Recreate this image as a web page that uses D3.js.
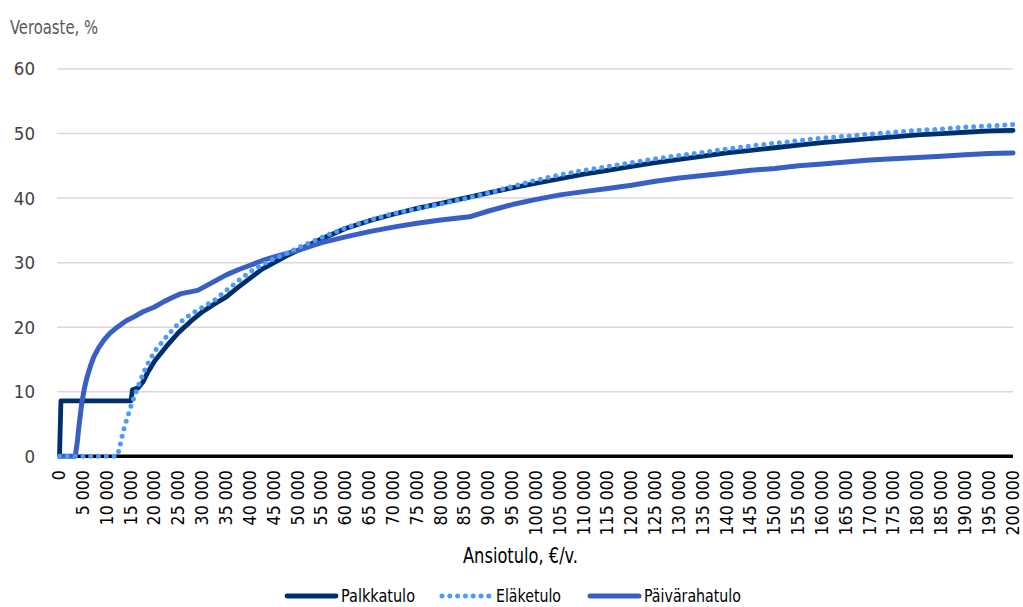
<!DOCTYPE html>
<html><head><meta charset="utf-8">
<script src="https://cdn.jsdelivr.net/npm/d3@7"></script>
<style>
body{margin:0;background:#fff;}
svg{display:block;}
text{font-family:"Liberation Sans Narrow","DejaVu Sans Condensed","Roboto Condensed",sans-serif;}
</style></head><body>
<svg id="c" width="1023" height="607"></svg>
<script>
// ---- data ----
const yTicks = [0,10,20,30,40,50,60];
const xTicks = d3.range(0, 200001, 5000);
const seriesNames = ["Palkkatulo","Eläketulo","Päivärahatulo"];

const palkkaIncome = [0,300,15000,15300,16500,17500,18500,20000,22500,25000,27500,30000,32500,35000,37500,40000,42500,45000,47500,50000,55000,60000,65000,70000,75000,80000,85000,90000,95000,100000,105000,110000,115000,120000,125000,130000,135000,140000,145000,150000,155000,160000,165000,170000,175000,180000,185000,190000,195000,200000];
const palkkaRate   = [0,8.6,8.6,10.3,10.6,11.5,13.0,14.8,17.1,19.2,20.9,22.4,23.6,24.7,26.2,27.6,29.0,30.0,31.0,31.9,33.7,35.3,36.5,37.5,38.4,39.2,40.0,40.8,41.6,42.3,43.0,43.7,44.3,44.9,45.5,46.0,46.5,47.0,47.4,47.8,48.2,48.6,48.9,49.2,49.5,49.8,50.0,50.2,50.4,50.5];

const elakeIncome = [0,12000,12500,13000,13500,14000,14500,15000,16000,17000,18000,19000,20000,22500,25000,27500,30000,32500,35000,37500,40000,42500,45000,47500,50000,55000,60000,65000,70000,75000,80000,85000,90000,95000,100000,105000,110000,115000,120000,125000,130000,135000,140000,145000,150000,155000,160000,165000,170000,175000,180000,185000,190000,195000,200000];
const elakeRate   = [0,0,1.0,2.7,4.2,5.5,6.6,7.8,9.9,11.8,13.6,15.0,16.3,18.6,20.6,22.0,23.1,24.2,25.7,27.2,28.6,29.7,30.6,31.4,32.3,33.9,35.4,36.6,37.6,38.4,39.1,39.9,40.8,41.8,42.8,43.6,44.3,44.9,45.5,46.1,46.6,47.1,47.6,48.1,48.5,48.9,49.3,49.6,49.9,50.2,50.5,50.7,51.0,51.2,51.4];

const paivaIncome = [0,3300,3700,4100,4700,5300,5800,6500,7200,8200,9300,10500,12100,14000,15600,17500,19800,22000,24000,25500,29000,32000,35000,37500,40000,42500,45000,47500,50000,55000,60000,65000,70000,75000,80000,86000,90000,95000,100000,105000,110000,115000,120000,125000,130000,135000,140000,145000,150000,155000,160000,165000,170000,175000,180000,185000,190000,195000,200000];
const paivaRate   = [0,0,2.0,4.8,8.4,10.8,12.3,14.0,15.4,16.8,18.0,19.0,20.0,21.0,21.6,22.4,23.1,24.0,24.7,25.2,25.7,26.9,28.1,28.9,29.6,30.3,30.9,31.4,31.9,33.1,34.0,34.8,35.5,36.1,36.6,37.1,38.0,39.0,39.8,40.5,41.0,41.5,42.0,42.6,43.1,43.5,43.9,44.3,44.6,45.0,45.3,45.6,45.9,46.1,46.3,46.5,46.7,46.9,47.0];

// ---- drawing ----
const svg = d3.select("#c");
const x = d3.scaleLinear().domain([0,200000]).range([59.5,1013]);
const y = d3.scaleLinear().domain([0,60]).range([456.3,69]);

const fmt = v => d3.format(",")(v).replace(/,/g," ");

// gridlines
svg.append("g").selectAll("line").data(yTicks.filter(d=>d>0)).join("line")
  .attr("x1",57).attr("x2",1013)
  .attr("y1",d=>y(d)).attr("y2",d=>y(d))
  .attr("stroke","#d9d9d9").attr("stroke-width",1.5);

// y axis labels
const yAxis = d3.axisLeft(y).tickValues(yTicks).tickSize(0).tickPadding(0);
const gy = svg.append("g").attr("transform","translate(35,0)").call(yAxis);
gy.select(".domain").remove();
gy.selectAll("text").attr("font-size",18.5).attr("fill","#404040")
  .style("font-family",'"Liberation Sans Narrow","DejaVu Sans Condensed",sans-serif');

// x axis labels
const xAxis = d3.axisBottom(x).tickValues(xTicks).tickSize(0).tickFormat(fmt);
const gx = svg.append("g").attr("transform","translate(0,456.3)").call(xAxis);
gx.select(".domain").remove();
gx.selectAll("text")
  .attr("transform","rotate(-90)")
  .attr("text-anchor","end")
  .attr("x",-14).attr("y",-1).attr("dy","0.35em")
  .attr("font-size",17.5).attr("fill","#000")
  .style("font-family",'"Liberation Sans Narrow","DejaVu Sans Condensed",sans-serif');
svg.append("line").attr("x1",57).attr("x2",1013).attr("y1",y(0)).attr("y2",y(0))
  .attr("stroke","#000").attr("stroke-width",3.5);

const line = d3.line().x(d=>x(d[0])).y(d=>y(d[1]));
const palkka = palkkaIncome.map((v,i)=>[v,palkkaRate[i]]);
const elake = elakeIncome.map((v,i)=>[v,elakeRate[i]]);
const paiva = paivaIncome.map((v,i)=>[v,paivaRate[i]]);

const colPalkka = "#002f6c", colElake = "#4a9bff", colPaiva = "#3a5fc4";

svg.append("path").attr("d",line(palkka)).attr("fill","none")
  .attr("stroke",colPalkka).attr("stroke-width",4.8).attr("stroke-linejoin","round").attr("stroke-linecap","round");
svg.append("path").attr("d",line(paiva)).attr("fill","none")
  .attr("stroke",colPaiva).attr("stroke-width",5).attr("stroke-linejoin","round").attr("stroke-linecap","round");
svg.append("path").attr("d",line(elake)).attr("fill","none")
  .attr("stroke",colElake).attr("stroke-width",5).attr("stroke-dasharray","0 7.8").attr("stroke-linecap","round");

// titles
svg.append("text").attr("x",10).attr("y",34).text("Veroaste, %")
  .attr("font-size",20).attr("fill","#595959")
  .attr("textLength",88).attr("lengthAdjust","spacingAndGlyphs");
svg.append("text").attr("x",463).attr("y",563).text("Ansiotulo, €/v.")
  .attr("font-size",22).attr("fill","#000")
  .attr("textLength",115).attr("lengthAdjust","spacingAndGlyphs");

// legend
const leg = [
  {name:seriesNames[0], x:287, col:colPalkka, dash:null, w:4.8, tl:74},
  {name:seriesNames[1], x:442, col:colElake, dash:"0 7.8", w:5, tl:65},
  {name:seriesNames[2], x:590, col:colPaiva, dash:null, w:5, tl:97}
];
const lg = svg.append("g").selectAll("g").data(leg).join("g");
lg.append("line").attr("x1",d=>d.x).attr("x2",d=>d.x+49).attr("y1",596).attr("y2",596)
  .attr("stroke",d=>d.col).attr("stroke-width",d=>d.w).attr("stroke-linecap","round")
  .attr("stroke-dasharray",d=>d.dash);
lg.append("text").attr("x",d=>d.x+54).attr("y",596).attr("dy","0.35em").text(d=>d.name)
  .attr("font-size",18).attr("fill","#000")
  .attr("textLength",d=>d.tl).attr("lengthAdjust","spacingAndGlyphs");
</script></body></html>
